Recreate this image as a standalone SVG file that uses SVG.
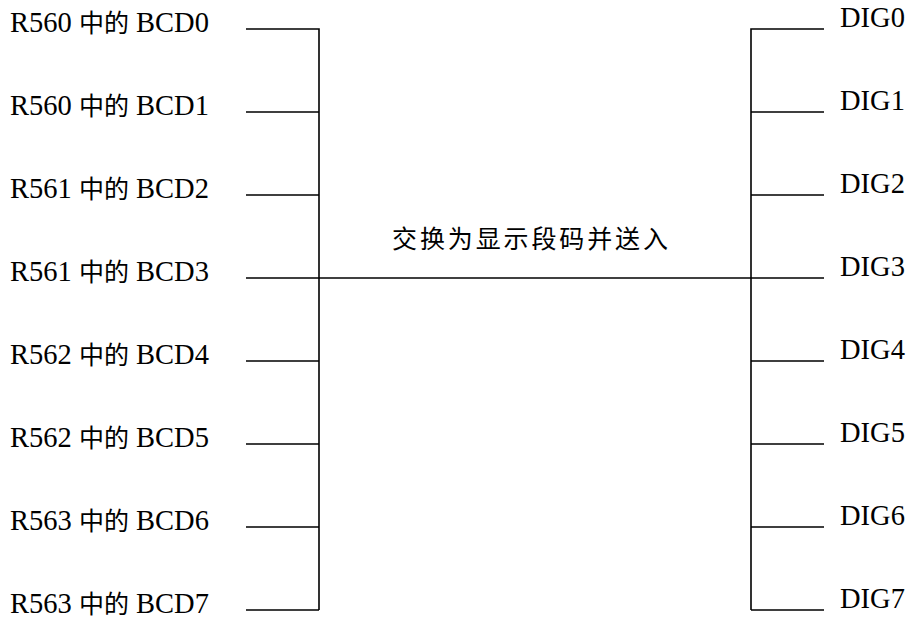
<svg xmlns="http://www.w3.org/2000/svg" width="910" height="619" viewBox="0 0 910 619">
<style>
.ln{stroke:#000;stroke-width:1.6;fill:none}
.lb{font-family:"Liberation Serif","Times New Roman",serif;font-size:28.5px;fill:#000}
.cj{font-family:"Noto Sans CJK SC",sans-serif;font-size:25px;fill:#000}
</style>
<rect width="910" height="619" fill="#fff"/>
<g id="connectors">
<path class="ln" d="M246,29H319V610M246,112H319M246,195H319M246,278H319M246,361H319M246,444H319M246,527H319M246,610H319"/>
<path class="ln" d="M824,29H751V610M751,112H824M751,195H824M751,278H824M751,361H824M751,444H824M751,527H824M751,610H824"/>
<path class="ln" d="M319,278H751"/>
</g>
<g id="left-labels">
<g id="L0"><text class="lb" x="10" y="32">R560 <tspan class="cj">中的</tspan> BCD0</text></g>
<g id="L1"><text class="lb" x="10" y="115">R560 <tspan class="cj">中的</tspan> BCD1</text></g>
<g id="L2"><text class="lb" x="10" y="198">R561 <tspan class="cj">中的</tspan> BCD2</text></g>
<g id="L3"><text class="lb" x="10" y="281">R561 <tspan class="cj">中的</tspan> BCD3</text></g>
<g id="L4"><text class="lb" x="10" y="364">R562 <tspan class="cj">中的</tspan> BCD4</text></g>
<g id="L5"><text class="lb" x="10" y="447">R562 <tspan class="cj">中的</tspan> BCD5</text></g>
<g id="L6"><text class="lb" x="10" y="530">R563 <tspan class="cj">中的</tspan> BCD6</text></g>
<g id="L7"><text class="lb" x="10" y="613">R563 <tspan class="cj">中的</tspan> BCD7</text></g>
</g>
<g id="right-labels">
<g id="D0"><text class="lb" x="840" y="27">DIG0</text></g>
<g id="D1"><text class="lb" x="840" y="110">DIG1</text></g>
<g id="D2"><text class="lb" x="840" y="193">DIG2</text></g>
<g id="D3"><text class="lb" x="840" y="276">DIG3</text></g>
<g id="D4"><text class="lb" x="840" y="359">DIG4</text></g>
<g id="D5"><text class="lb" x="840" y="442">DIG5</text></g>
<g id="D6"><text class="lb" x="840" y="525">DIG6</text></g>
<g id="D7"><text class="lb" x="840" y="608">DIG7</text></g>
</g>
<g id="center-label">
<text class="cj" x="392" y="248" textLength="276" lengthAdjust="spacing">交换为显示段码并送入</text>
</g>
</svg>
